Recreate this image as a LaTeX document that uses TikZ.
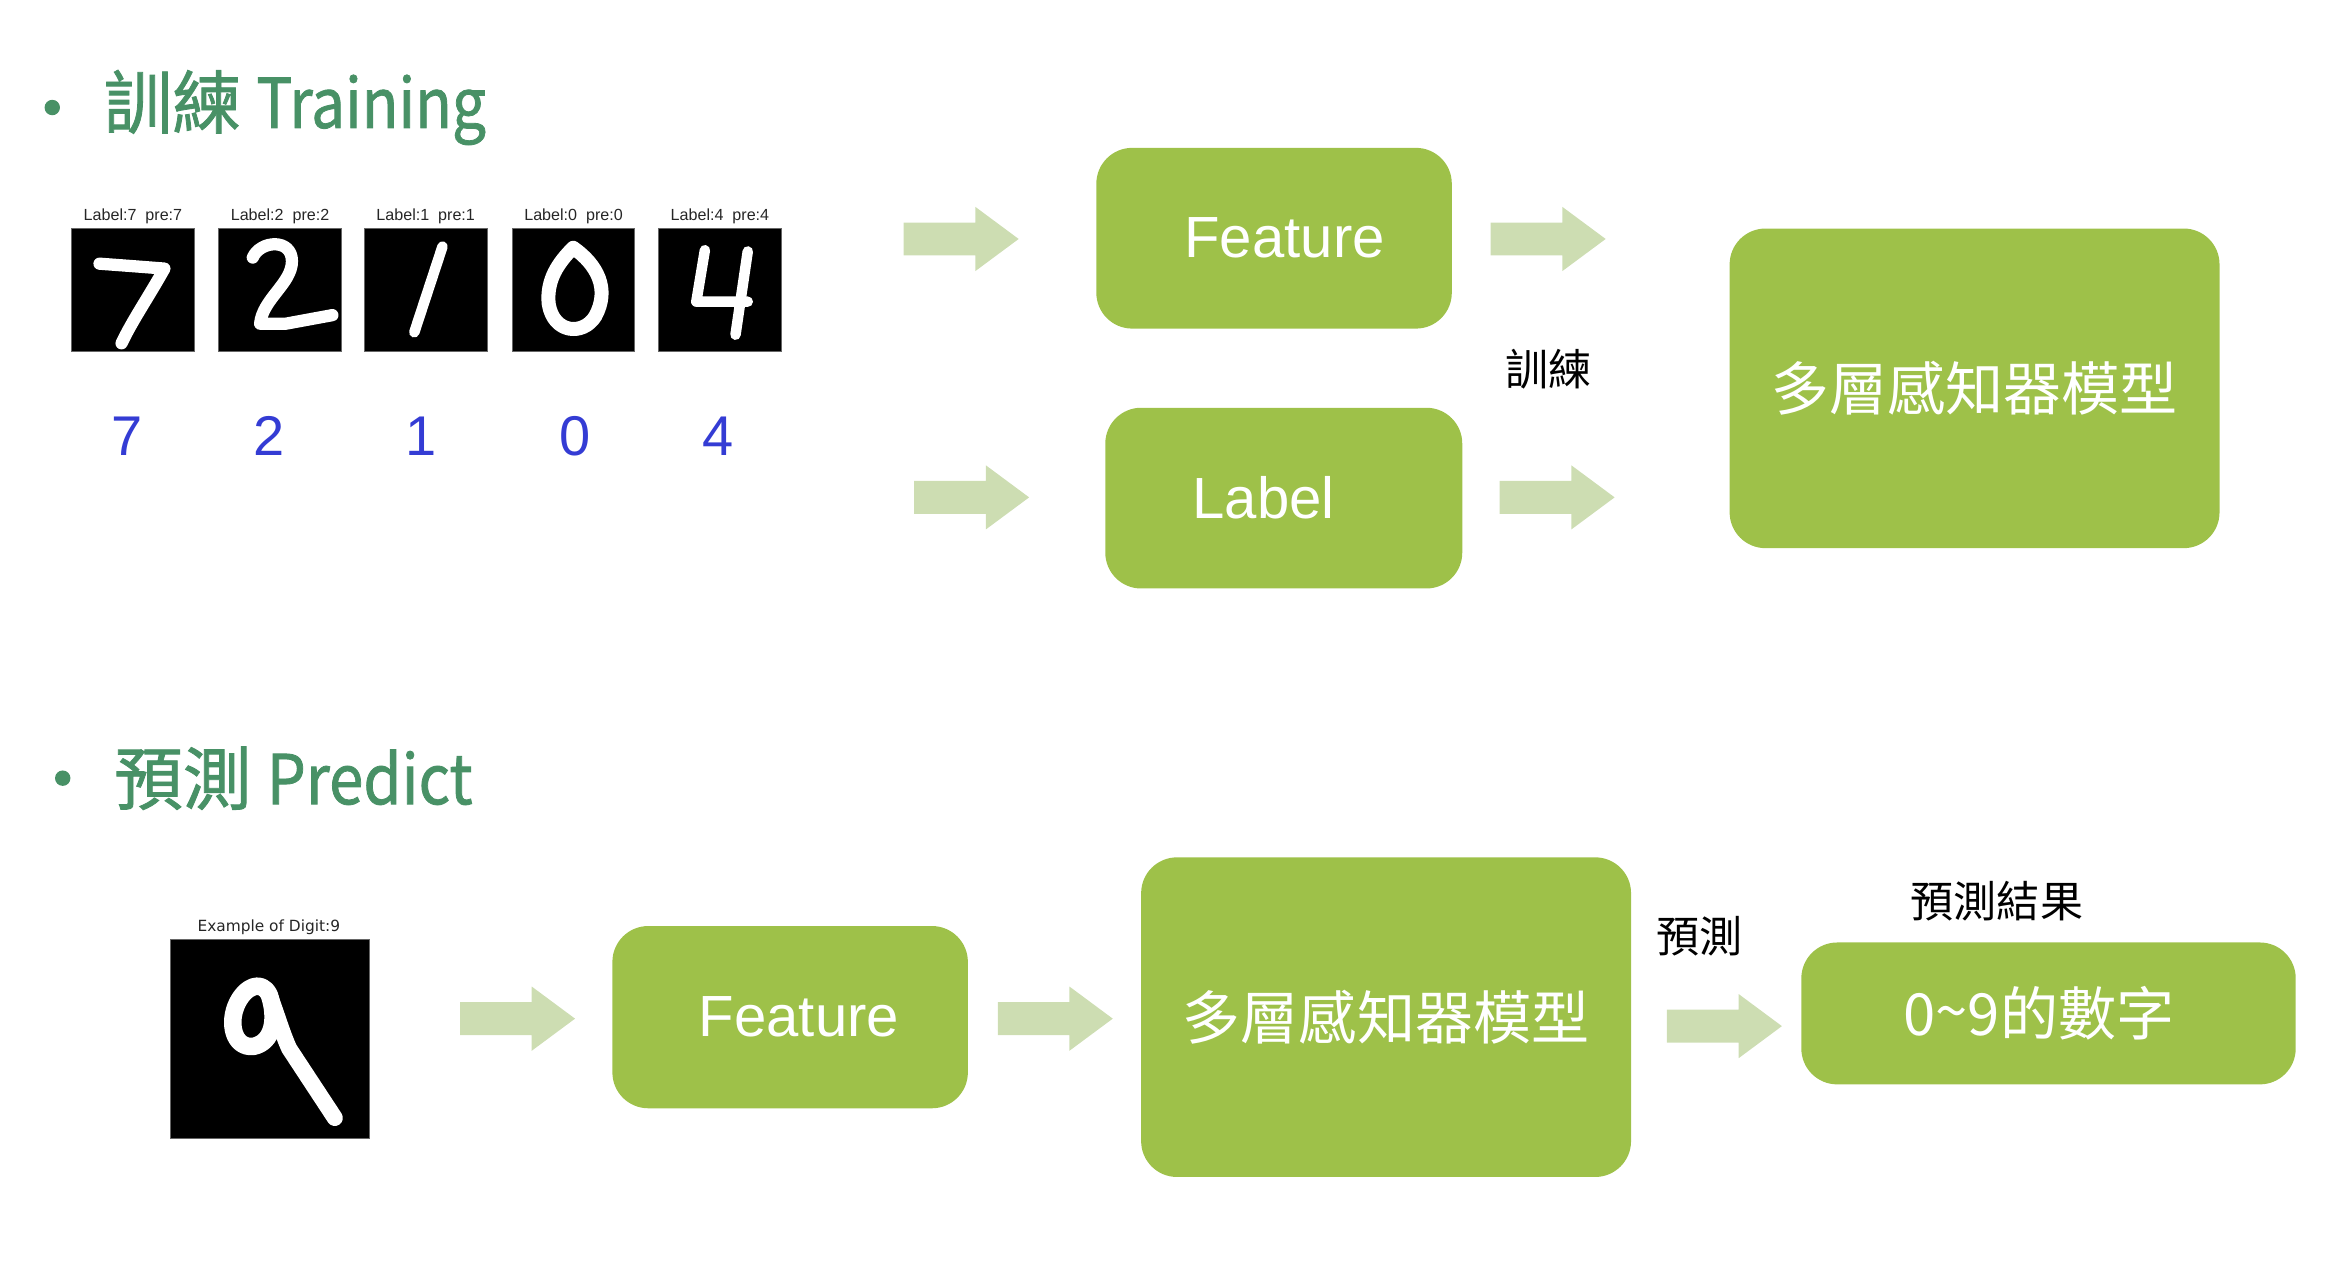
\documentclass[tikz,border=0pt]{standalone}
\usepackage{fontspec}
\setmainfont{Liberation Sans}
\newfontfamily\cjk{Noto Sans CJK TC}
\newfontfamily\cjktitle[FakeBold=1.2]{Noto Sans CJK TC}
\newfontfamily\djv{DejaVu Sans}
\definecolor{boxgreen}{RGB}{158,193,73}
\definecolor{arrowgreen}{RGB}{205,221,178}
\definecolor{titlegreen}{RGB}{72,145,102}
\definecolor{digitblue}{RGB}{52,60,212}
\tikzset{
  box/.style={fill=boxgreen, rounded corners=3.6mm, text=white, inner sep=0pt,
    font=\cjk\fontsize{16.6}{18}\selectfont},
  latinbox/.style={box, font=\fontsize{16.6}{18}\selectfont},
  title/.style={anchor=west, text=titlegreen, inner sep=0pt, font=\cjktitle\fontsize{19.6}{22}\selectfont},
  bullet/.style={circle, fill=titlegreen, inner sep=0pt, minimum size=1.55mm},
  blacklabel/.style={inner sep=0pt, font=\cjk\fontsize{12.3}{14}\selectfont},
  smalllabel/.style={inner sep=0pt, font=\fontsize{4.6}{6}\selectfont, text=black!85},
  exlabel/.style={inner sep=0pt, font=\djv\fontsize{4.4}{5}\selectfont, text=black!85},
  bluedigit/.style={inner sep=0pt, text=digitblue, font=\fontsize{16}{18}\selectfont},
  imgsq/.style={fill=black, draw=black!60, line width=0.2pt, inner sep=0pt, minimum size=12.3mm},
  stroke/.style={draw=white, line width=3.5pt, line cap=round, line join=round},
  blockarrow/.pic={\fill[arrowgreen] (0,-11) -- (48,-11) -- (48,-21.5) -- (77,0) -- (48,21.5) -- (48,11) -- (0,11) -- cycle;}
}
\begin{document}
\begin{tikzpicture}[x=0.15mm, y=-0.15mm]
\useasboundingbox (0,0) rectangle (1568,850);

% ---------- Training ----------
\node[bullet] (b1) at (35,72) {};
\node[title] (t1) at (69,72) {訓練 \scalebox{0.88}[1]{Training}};

% digit images
\node[imgsq] (img1) at (89,194) {};
\node[imgsq] (img2) at (187.5,194) {};
\node[imgsq] (img3) at (285,194) {};
\node[imgsq] (img4) at (384,194) {};
\node[imgsq] (img5) at (482,194) {};

\node[smalllabel] (l1) at (89,145) {Label:7\ \ pre:7};
\node[smalllabel] (l2) at (187.5,145) {Label:2\ \ pre:2};
\node[smalllabel] (l3) at (285,145) {Label:1\ \ pre:1};
\node[smalllabel] (l4) at (384,145) {Label:0\ \ pre:0};
\node[smalllabel] (l5) at (482,145) {Label:4\ \ pre:4};

\begin{scope}[shift={(img1.north west)}, x=12.3mm, y=-12.3mm]
  \draw[stroke] (0.23,0.29) -- (0.50,0.31) -- (0.76,0.33) .. controls (0.62,0.58) and (0.50,0.75) .. (0.41,0.94);
\end{scope}
\begin{scope}[shift={(img2.north west)}, x=12.3mm, y=-12.3mm]
  \draw[stroke] (0.28,0.24) .. controls (0.34,0.10) and (0.60,0.08) .. (0.60,0.27)
     .. controls (0.60,0.45) and (0.36,0.58) .. (0.34,0.78) -- (0.55,0.78) -- (0.93,0.71);
\end{scope}
\begin{scope}[shift={(img3.north west)}, x=12.3mm, y=-12.3mm]
  \draw[stroke, line width=3pt] (0.64,0.15) -- (0.41,0.85);
\end{scope}
\begin{scope}[shift={(img4.north west)}, x=12.3mm, y=-12.3mm]
  \draw[stroke, line width=4pt] (0.50,0.16) .. controls (0.70,0.30) and (0.80,0.50) .. (0.68,0.72)
     .. controls (0.58,0.88) and (0.34,0.86) .. (0.30,0.62)
     .. controls (0.28,0.42) and (0.38,0.28) .. cycle;
\end{scope}
\begin{scope}[shift={(img5.north west)}, x=12.3mm, y=-12.3mm]
  \draw[stroke, line width=3pt] (0.38,0.18) -- (0.31,0.60) -- (0.73,0.60);
  \draw[stroke, line width=3pt] (0.73,0.19) -- (0.63,0.87);
\end{scope}

\node[bluedigit] (d1) at (85,292) {7};
\node[bluedigit] (d2) at (180,292) {2};
\node[bluedigit] (d3) at (282,292) {1};
\node[bluedigit] (d4) at (385,292) {0};
\node[bluedigit] (d5) at (481,292) {4};

% arrows (training)
\pic (a1) at (605,160) {blockarrow};
\pic (a2) at (612,333) {blockarrow};
\pic (a3) at (998,160) {blockarrow};
\pic (a4) at (1004,333) {blockarrow};

% boxes (training)
\node[latinbox, minimum width={238*0.15mm}, minimum height={121*0.15mm}] (feat1) at (853,159.5) {\hspace*{6pt}Feature};
\node[latinbox, minimum width={239*0.15mm}, minimum height={121*0.15mm}] (lab1) at (859.5,333.5) {Label\hspace*{11.5pt}};
\node[box, minimum width={328*0.15mm}, minimum height={214*0.15mm}] (mlp1) at (1322,260) {多層感知器模型};
\node[blacklabel] (train) at (1037,247) {訓練};

% ---------- Predict ----------
\node[bullet] (b2) at (42,521) {};
\node[title] (t2) at (76,521) {預測 \scalebox{0.9}[1]{Predict}};

\node[exlabel] (exl) at (180,621) {Example of Digit:9};
\node[imgsq, minimum size={133*0.15mm}] (img9) at (180.5,695.5) {};
\begin{scope}[shift={(img9.north west)}, x={133*0.15mm}, y={-133*0.15mm}]
  \draw[stroke, line width=5pt] (0.50,0.28) .. controls (0.46,0.20) and (0.38,0.24) .. (0.34,0.32)
     .. controls (0.29,0.42) and (0.32,0.55) .. (0.42,0.54)
     .. controls (0.52,0.52) and (0.54,0.40) .. (0.50,0.28);
  \draw[stroke, line width=4.6pt] (0.50,0.28) .. controls (0.54,0.38) and (0.56,0.46) .. (0.60,0.55) -- (0.83,0.90);
\end{scope}

\pic (a5) at (308,682) {blockarrow};
\pic (a6) at (668,682) {blockarrow};
\pic (a7) at (1116,687) {blockarrow};

\node[latinbox, minimum width={238*0.15mm}, minimum height={122*0.15mm}] (feat2) at (529,681) {\hspace*{5pt}Feature};
\node[box, minimum width={328*0.15mm}, minimum height={214*0.15mm}] (mlp2) at (928,681) {多層感知器模型};
\node[box, minimum width={331*0.15mm}, minimum height={95*0.15mm}] (res) at (1371.5,678.5) {0\raisebox{0.1ex}{\textasciitilde}9的數字\hspace*{5.5pt}};
\node[blacklabel] (pred) at (1138,627) {預測};
\node[blacklabel] (predres) at (1337,603) {預測結果};
\end{tikzpicture}
\end{document}
